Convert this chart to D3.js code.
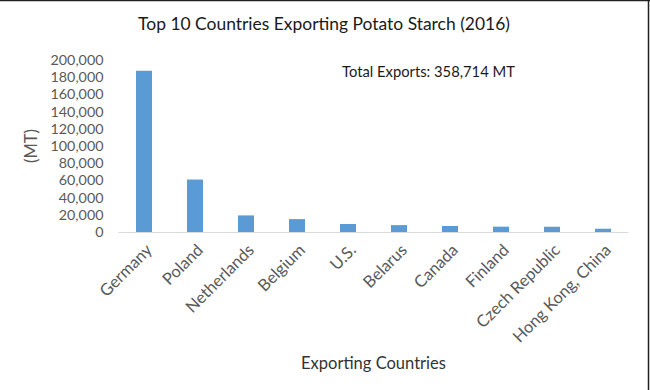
<!DOCTYPE html>
<html><head><meta charset="utf-8">
<script src="https://cdn.jsdelivr.net/npm/d3@7"></script>
<style>
html,body{margin:0;padding:0;background:#fff;}
text{font-family:Lato,"Open Sans",sans-serif;}
</style></head>
<body>
<svg id="chart" width="650" height="390"></svg>
<script>
const categories = ["Germany","Poland","Netherlands","Belgium","U.S.","Belarus","Canada","Finland","Czech Republic","Hong Kong, China"];
const values = [187500, 61000, 19300, 15000, 9300, 8000, 7000, 6200, 6100, 3800];
const yTicks = [0,20000,40000,60000,80000,100000,120000,140000,160000,180000,200000];
const titleText = "Top 10 Countries Exporting Potato Starch (2016)";
const noteText = "Total Exports: 358,714 MT";
const xTitle = "Exporting Countries";
const yTitle = "(MT)";

const svg = d3.select("#chart");
const m = {left:118.5, right:628.5, top:60, bottom:232};

const x = d3.scaleBand().domain(categories).range([m.left, m.right]).paddingInner(0.686).paddingOuter(0.343);
const y = d3.scaleLinear().domain([0,200000]).range([m.bottom, m.top]);

function fit(sel, target){
  const w = sel.node().getComputedTextLength();
  const fs = parseFloat(sel.attr("font-size"));
  sel.attr("font-size", (fs*target/w).toFixed(2));
}

// border (top & right)
svg.append("line").attr("x1",0).attr("x2",650).attr("y1",0.5).attr("y2",0.5).attr("stroke","#222").attr("stroke-width",1.5);
svg.append("line").attr("x1",648.5).attr("x2",648.5).attr("y1",0).attr("y2",390).attr("stroke","#222").attr("stroke-width",1.5);

// y axis
const yAxis = svg.append("g").attr("transform",`translate(${m.left},0)`)
  .call(d3.axisLeft(y).tickValues(yTicks).tickSize(0).tickPadding(15).tickFormat(d3.format(",")));
yAxis.select(".domain").remove();
yAxis.selectAll("text").attr("fill","#595959").attr("font-size",14).style("font-family","Lato,sans-serif");
const t200 = yAxis.selectAll("text").filter(d=>d===200000);
const w0 = t200.node().getComputedTextLength();
yAxis.selectAll("text").attr("font-size",(14*53/w0).toFixed(2));

// bars
svg.append("g").selectAll("rect").data(categories).join("rect")
  .attr("x", d=>x(d)).attr("width", x.bandwidth())
  .attr("y", (d,i)=>y(values[i])).attr("height",(d,i)=>y(0)-y(values[i]))
  .attr("fill","#5b9bd5");

// x axis
const xAxis = svg.append("g").attr("transform",`translate(0,${m.bottom})`)
  .call(d3.axisBottom(x).tickSize(0).tickPadding(0));
xAxis.select(".domain").attr("stroke","#d9d9d9").attr("stroke-width",1).attr("d",`M${m.left},0.5H${m.right}`);
xAxis.selectAll(".tick text")
  .attr("fill","#595959").attr("font-size",14)
  .style("font-family","Lato,sans-serif")
  .attr("text-anchor","end")
  .attr("dy","0.35em")
  .attr("transform","translate(5,15) rotate(-45)");
const gLab = xAxis.selectAll(".tick text").filter(d=>d==="Germany");
const gw = gLab.node().getComputedTextLength();
xAxis.selectAll(".tick text").attr("font-size",(14*66/gw).toFixed(2));

// titles
const tt = svg.append("text").attr("x",324).attr("y",30).attr("text-anchor","middle")
  .attr("fill","#1a1a1a").attr("font-size",16).text(titleText);
fit(tt,372);
const nt = svg.append("text").attr("x",342).attr("y",77)
  .attr("fill","#1a1a1a").attr("font-size",16).text(noteText);
fit(nt,173);
const xt = svg.append("text").attr("x",373.5).attr("y",369).attr("text-anchor","middle")
  .attr("fill","#333").attr("font-size",16).text(xTitle);
fit(xt,145);
const yt = svg.append("text").attr("transform","translate(37,146) rotate(-90)").attr("text-anchor","middle")
  .attr("fill","#595959").attr("font-size",15).text(yTitle);
fit(yt,34);
</script>
</body></html>
